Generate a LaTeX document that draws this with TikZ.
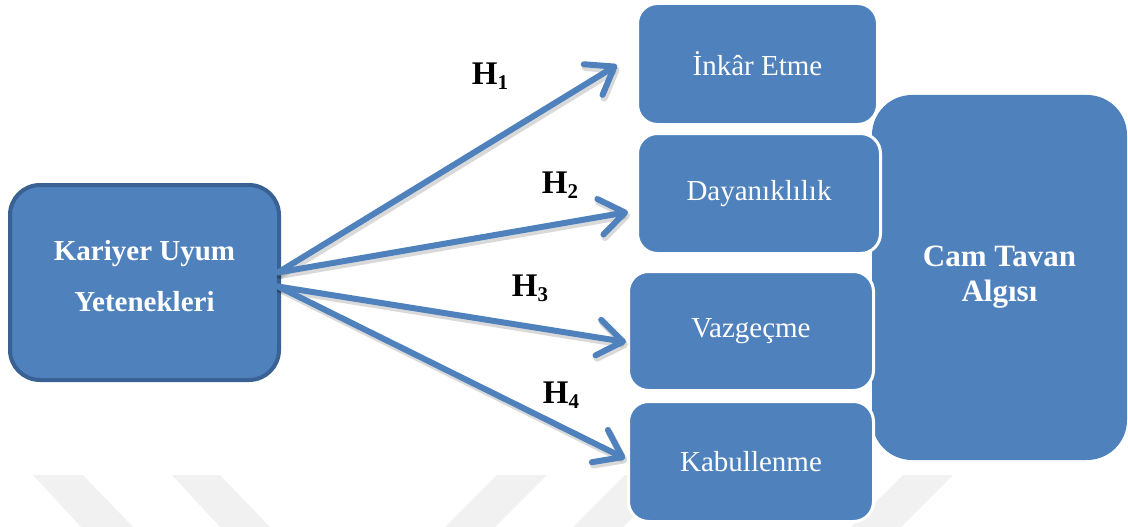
\documentclass[tikz,border=0pt]{standalone}
\usepackage{fontspec}
\setmainfont{Liberation Serif}
\usetikzlibrary{arrows.meta,calc}
\definecolor{boxblue}{HTML}{4F81BD}
\definecolor{borderblue}{HTML}{3A6193}
\definecolor{wmgray}{HTML}{F1F1F1}
\begin{document}
\begin{tikzpicture}[x=1pt,y=-1pt,
  blk/.style={fill=boxblue, rounded corners=20pt, inner sep=0pt, text=white, align=center},
  smallbox/.style={blk, draw=white, line width=3pt, font=\fontsize{29}{34}\selectfont},
  arr/.style={draw=boxblue, line width=6pt, line cap=round,
    -{Straight Barb[length=25pt,width=36pt,round]}},
  arrshadow/.style={draw=black, opacity=0.15, line width=7pt, line cap=round,
    -{Straight Barb[length=25pt,width=36pt,round]}, transform canvas={xshift=2pt,yshift=-3pt}},
  hlabel/.style={font=\fontsize{33}{36}\bfseries\selectfont, inner sep=0pt},
  wm/.style={fill=wmgray, draw=none}]
\useasboundingbox (0,0) rectangle (1128,527);
% watermark
\fill[wm] (33,475) -- (83,475) -- (133,527) -- (81,527) -- cycle;
\fill[wm] (172,475) -- (220,475) -- (270,527) -- (220,527) -- cycle;
\fill[wm] (497,475) -- (547,475) -- (495,527) -- (445,527) -- cycle;
\fill[wm] (625,475) -- (675,475) -- (623,527) -- (573,527) -- cycle;
\fill[wm] (903,475) -- (953,475) -- (901,527) -- (851,527) -- cycle;
% boxes
\node[blk, draw=borderblue, line width=4pt, rounded corners=30pt,
  minimum width=269pt, minimum height=195pt] (kariyer) at (144.5,282.5) {};
\node[text=white, align=center, inner sep=0pt,
  font=\fontsize{29}{51}\bfseries\selectfont] (kariyerlbl) at (144.5,276)
  {Kariyer Uyum\\Yetenekleri};
\node[blk, rounded corners=40pt, minimum width=255pt, minimum height=365pt,
  font=\fontsize{31}{35}\bfseries\selectfont] (cam) at (999.5,277.5)
  {Cam Tavan\\Algısı};
\node[smallbox, minimum width=240pt, minimum height=121pt] (inkar) at (757.5,64) {İnkâr Etme};
\node[smallbox, minimum width=243pt, minimum height=120pt] (dayan) at (759,193.5) {Dayanıklılık};
\node[smallbox, minimum width=245pt, minimum height=119pt] (vazg) at (751,331) {Vazgeçme};
\node[smallbox, minimum width=245pt, minimum height=120pt] (kabul) at (751,461.5) {Kabullenme};
% arrow endpoints
\coordinate (s12) at ($(kariyer.east)+(-3,-10)$);
\coordinate (s34) at ($(kariyer.east)+(-3,4)$);
\coordinate (t1) at ($(inkar.west)+(-19,1)$);
\coordinate (t2) at ($(dayan.west)+(-8,18.5)$);
\coordinate (t3) at ($(vazg.west)+(-1,11)$);
\coordinate (t4) at ($(kabul.west)+(-2,-3)$);
% shadows
\draw[arrshadow] (s12) -- (t1);
\draw[arrshadow] (s12) -- (t2);
\draw[arrshadow] (s34) -- (t3);
\draw[arrshadow] (s34) -- (t4);
% arrows
\draw[arr] (s12) -- (t1);
\draw[arr] (s12) -- (t2);
\draw[arr] (s34) -- (t3);
\draw[arr] (s34) -- (t4);
% labels
\node[hlabel] (h1) at (490,76) {H\raisebox{-5pt}{\fontsize{21}{21}\selectfont 1}};
\node[hlabel] (h2) at (560,185) {H\raisebox{-5pt}{\fontsize{21}{21}\selectfont 2}};
\node[hlabel] (h3) at (530,288) {H\raisebox{-5pt}{\fontsize{21}{21}\selectfont 3}};
\node[hlabel] (h4) at (561,395) {H\raisebox{-5pt}{\fontsize{21}{21}\selectfont 4}};
\end{tikzpicture}
\end{document}
